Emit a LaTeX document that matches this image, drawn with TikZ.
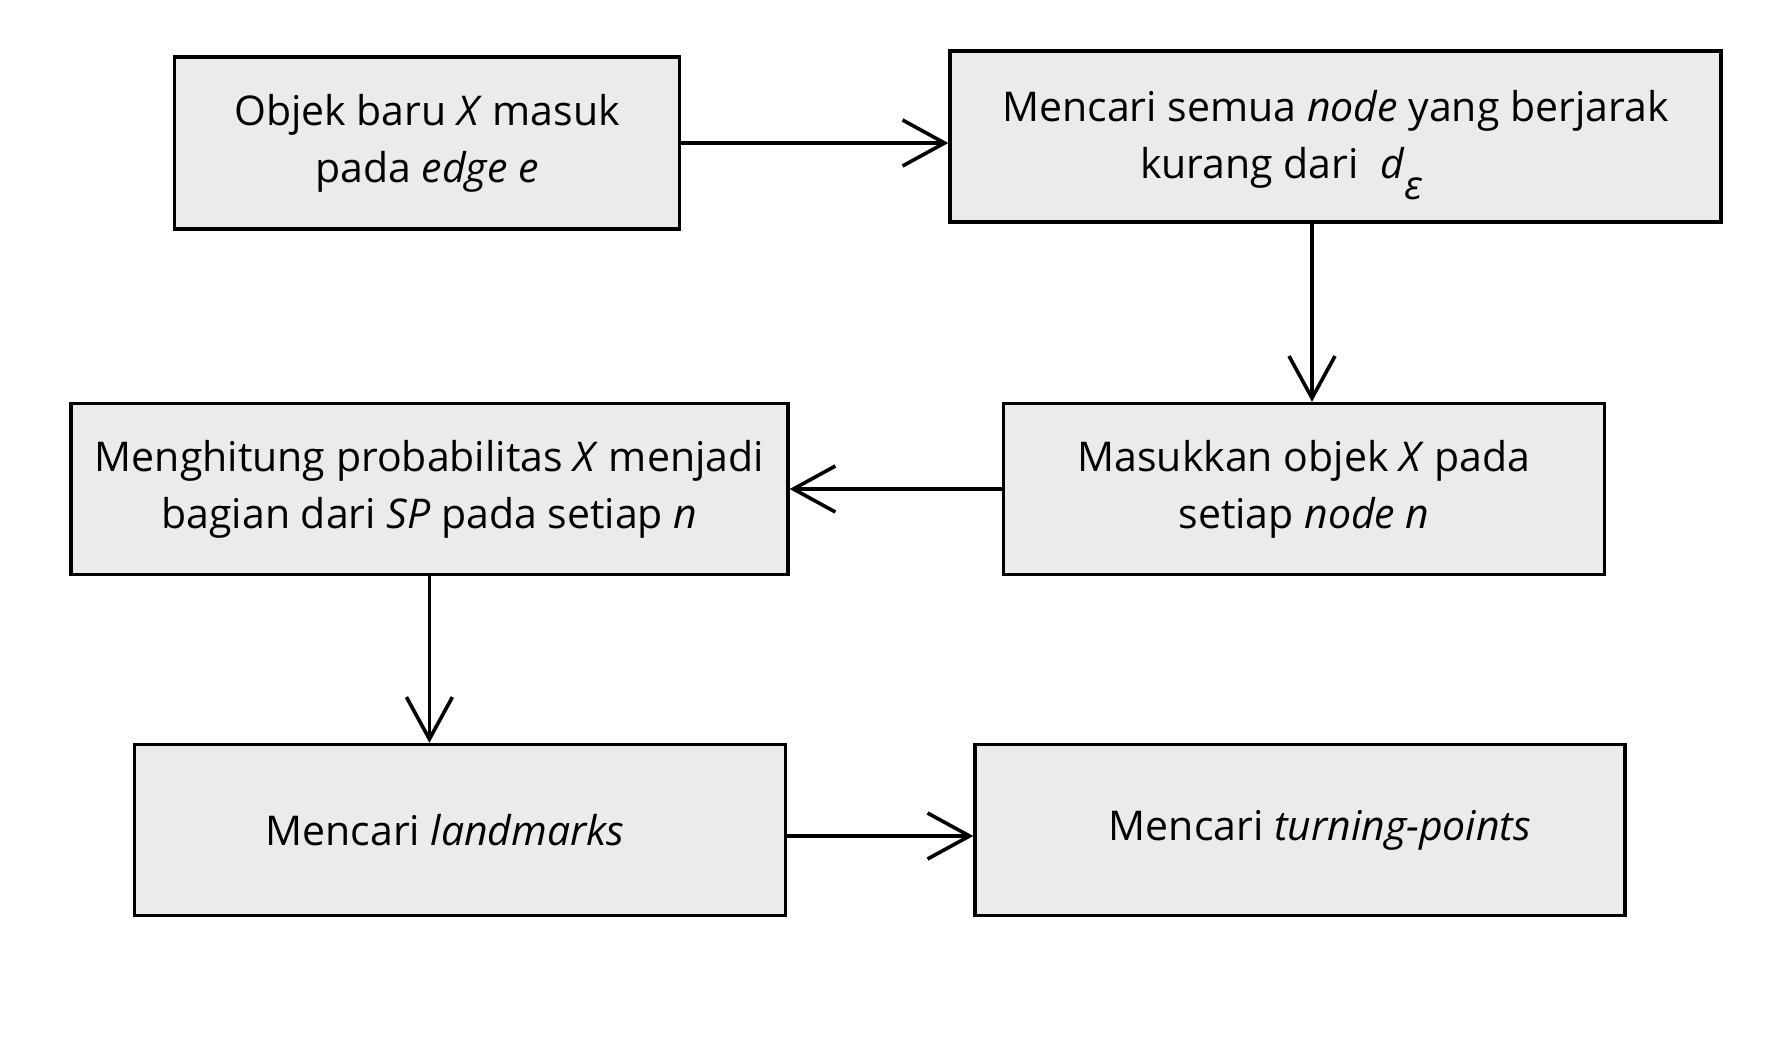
\documentclass[tikz,border=0pt]{standalone}
\usepackage{fontspec}
\setmainfont{Open Sans}
\usepackage{tikz}
\usetikzlibrary{arrows.meta, positioning}
\definecolor{boxgray}{RGB}{235, 235, 235}

\tikzset{
  stepbox/.style={draw=black, line width=1.7pt, fill=boxgray, align=center,
    inner sep=0pt, font=\fontsize{20.5}{28.5}\selectfont},
  arr/.style={line width=1.8pt, -{Straight Barb[length=21pt, width=23pt, line width=1.8pt]}}
}

\begin{document}
\begin{tikzpicture}[x=0.5pt, y=-0.5pt]
            \useasboundingbox (0,0) rectangle (1788,1038);
            % upper row
            \node[stepbox, minimum width=252.5pt, minimum height=86pt] (masuk) at (427,143)
                {Objek baru \textit{X} masuk\\ pada \textit{edge e}};
            \node[stepbox, minimum width=385.5pt, minimum height=85.5pt] (cari) at (1335.5,136.5)
                {\rule{0pt}{24pt}Mencari semua \textit{node} yang berjarak\\ kurang dari\ \ \textit{d}\raisebox{-0.5em}{\fontsize{20}{20}\selectfont\textit{ε}}\hspace*{54pt}};
            % middle row
            \node[stepbox, minimum width=300.5pt, minimum height=85.5pt] (sisip) at (1304,489)
                {Masukkan objek \textit{X} pada\\ setiap \textit{node n}};
            \node[stepbox, minimum width=358.5pt, minimum height=85.5pt] (prob) at (429.4,489)
                {Menghitung probabilitas \textit{X} menjadi\\ bagian dari \textit{SP} pada setiap \textit{n}};
            % lower row
            \node[stepbox, minimum width=325.5pt, minimum height=85.5pt] (landmark) at (460,830)
                {Mencari \textit{landmarks}\hspace*{15pt}};
            \node[stepbox, minimum width=325pt, minimum height=85.5pt] (turning) at (1300,830)
                {\hspace*{20pt}Mencari \textit{turning-points}};
            % connectors
            \draw[arr] (masuk.east) -- (masuk.east -| cari.west);
            \draw[arr] ([xshift=4pt]cari.south -| sisip.north) -- ([xshift=4pt]sisip.north);
            \draw[arr] (sisip.west) -- (sisip.west -| prob.east);
            \draw[arr] (prob.south) -- (prob.south |- landmark.north);
            \draw[arr] ([yshift=-3pt]landmark.east) -- ([yshift=-3pt]landmark.east -| turning.west);
        \end{tikzpicture}
\end{document}
